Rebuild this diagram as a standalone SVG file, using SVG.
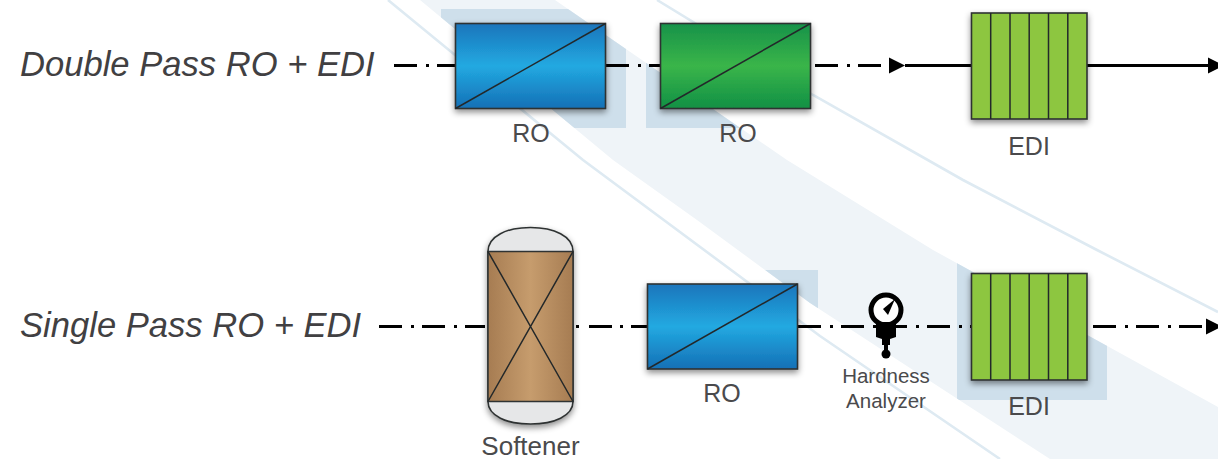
<svg xmlns="http://www.w3.org/2000/svg" width="1218" height="459" viewBox="0 0 1218 459">
<style>
.t{font-family:"Liberation Sans",Arial,sans-serif;fill:#4a4a4c;text-anchor:middle;font-size:25px}
.h{font-size:20.5px}
.title{font-family:"Liberation Sans",Arial,sans-serif;font-style:italic;font-size:34.6px;fill:#414042}
.box{stroke:#2f3333;stroke-width:1.6;filter:url(#sh)}
.in{stroke:#23282a;stroke-width:1.5;fill:none}
.flow{stroke:#000;stroke-width:3;fill:none}
.dash{stroke-dasharray:23 9 3 8}
.thin{stroke:#deeaf2;stroke-width:2.6;fill:none}
</style>
<defs>
<linearGradient id="blue" x1="0" y1="0" x2="0" y2="1"><stop offset="0" stop-color="#1b75bb"/><stop offset=".5" stop-color="#22a9e1"/><stop offset="1" stop-color="#1570b6"/></linearGradient>
<linearGradient id="green" x1="0" y1="0" x2="0" y2="1"><stop offset="0" stop-color="#17924a"/><stop offset=".5" stop-color="#3ab54a"/><stop offset="1" stop-color="#119044"/></linearGradient>
<linearGradient id="tan" x1="0" y1="0" x2="1" y2="0"><stop offset="0" stop-color="#a67c52"/><stop offset=".5" stop-color="#c69c6d"/><stop offset="1" stop-color="#a67c52"/></linearGradient>
<filter id="sh" x="-15%" y="-15%" width="130%" height="135%"><feDropShadow dx="0" dy="3" stdDeviation="3" flood-color="#000" flood-opacity=".45"/></filter>
<clipPath id="bc"><path d="M420 0L555 0L787 160L933 250L1218 407L1218 459L1050 459L810 303L697 220L613 160Z"/></clipPath>
<marker id="ah" markerUnits="userSpaceOnUse" markerWidth="17" markerHeight="18" refX="0" refY="9" orient="auto"><path d="M0 1L16 9L0 17Z" fill="#000"/></marker>
</defs>
<g id="background">
<path d="M420 0L555 0L787 160L933 250L1218 407L1218 459L1050 459L810 303L697 220L613 160Z" fill="#eff4f8"/>
<path class="thin" d="M388 0L583 160L820 336L1000 459"/>
<path class="thin" d="M657 0L813 95L963 180L1097 250L1218 312"/>
<g clip-path="url(#bc)" fill="#cedfeb">
<rect x="441" y="9" width="185" height="119"/>
<rect x="646" y="9" width="180" height="119"/>
<rect x="640" y="270" width="178" height="110"/>
<rect x="957" y="240" width="150" height="160"/>
</g>
</g>
<g id="connectors">
<path class="flow dash" d="M394 65.5H455"/>
<path class="flow dash" d="M606 65.5H660"/>
<path class="flow dash" d="M815 65.5H889" marker-end="url(#ah)"/>
<path class="flow" d="M905 65.5H971"/>
<path class="flow" d="M1087 65.5H1208" marker-end="url(#ah)"/>
<path class="flow dash" d="M379 326.5H485"/>
<path class="flow" d="M576 326.5H579M589 326.5H612M620 326.5H623M631 326.5H647"/>
<path class="flow dash" d="M798 326.5H971"/>
<path class="flow dash" d="M1093 326.5H1206" marker-end="url(#ah)"/>
</g>
<g id="ro1">
<rect class="box" x="455.5" y="23.5" width="150" height="85" fill="url(#blue)"/>
<path class="in" d="M455.5 108.5L605.5 23.5"/>
<text class="t" x="531" y="142">RO</text>
</g>
<g id="ro2">
<rect class="box" x="660.5" y="23.5" width="150" height="85" fill="url(#green)"/>
<path class="in" d="M660.5 108.5L810.5 23.5"/>
<text class="t" x="738" y="142">RO</text>
</g>
<g id="edi1">
<rect class="box" x="971.5" y="13" width="115.5" height="106" fill="#8dc63f"/>
<path class="in" d="M990.7 13V119M1010 13V119M1029.2 13V119M1048.5 13V119M1067.8 13V119"/>
<text class="t" x="1029" y="155">EDI</text>
</g>
<g id="softener">
<path class="box" d="M488 251.5C488 236 507 227.5 530.5 227.5C554 227.5 573 236 573 251.5V401.5C573 416 554 424 530.5 424C507 424 488 416 488 401.5Z" fill="#e6e7e8"/>
<rect x="488" y="251.5" width="85" height="150" fill="url(#tan)" stroke="#2f3333" stroke-width="1.5"/>
<path class="in" d="M488 251.5L573 401.5M573 251.5L488 401.5"/>
<text class="t" x="530.5" y="455" style="font-size:26px">Softener</text>
</g>
<g id="ro3">
<rect class="box" x="647.5" y="284" width="150" height="85" fill="url(#blue)"/>
<path class="in" d="M647.5 369L797.5 284"/>
<text class="t" x="722" y="402">RO</text>
</g>
<g id="analyzer">
<circle cx="886" cy="310" r="15" fill="#fff" stroke="#000" stroke-width="5"/>
<path d="M883 309L895 299L888 315Z" fill="#000"/>
<path d="M876 322H896V337L890 339V345H888V350H884V345H882V339L876 337Z" fill="#000"/>
<circle cx="886" cy="354" r="4.5" fill="#000"/>
<text class="t h" x="886" y="383">Hardness</text>
<text class="t h" x="886" y="408">Analyzer</text>
</g>
<g id="edi2">
<rect class="box" x="971.5" y="273.5" width="115.5" height="106.5" fill="#8dc63f"/>
<path class="in" d="M990.7 273.5V380M1010 273.5V380M1029.2 273.5V380M1048.5 273.5V380M1067.8 273.5V380"/>
<text class="t" x="1029" y="415">EDI</text>
</g>
<text class="title" x="20" y="76">Double Pass RO + EDI</text>
<text class="title" x="20" y="337">Single Pass RO + EDI</text>
</svg>
